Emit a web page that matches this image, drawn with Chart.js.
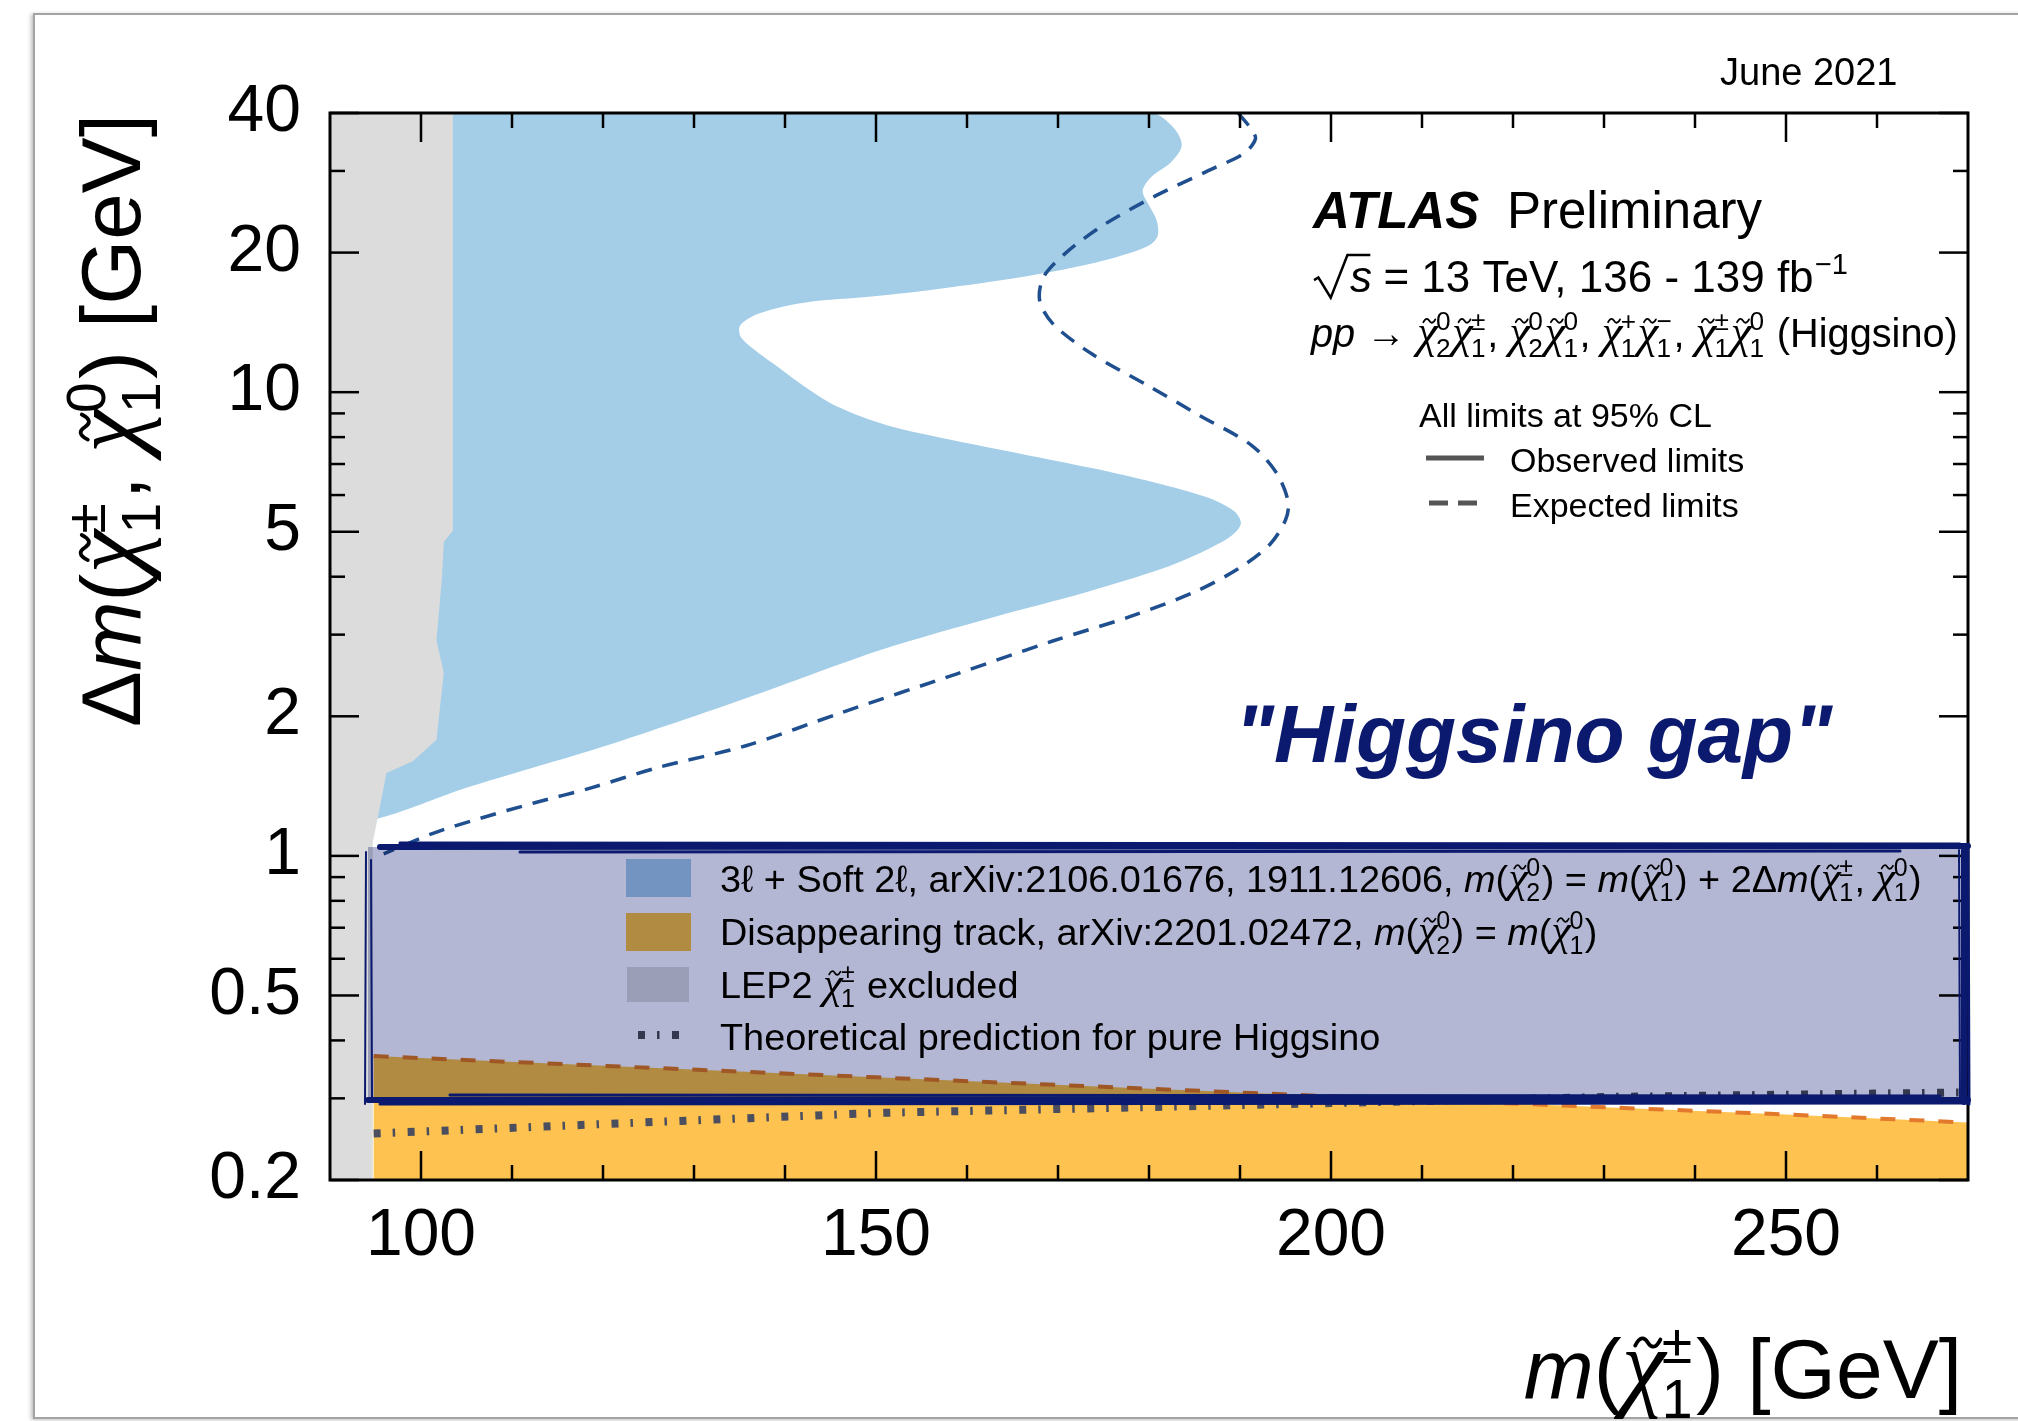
<!DOCTYPE html>
<html>
<head>
<meta charset="utf-8">
<script src="https://cdn.jsdelivr.net/npm/chart.js@4/dist/chart.umd.min.js"></script>
<style>
  html, body { margin: 0; padding: 0; background: #fff; overflow: hidden; }
  #wrap { position: relative; width: 2018px; height: 1421px; }
  #frame { position: absolute; left: 33px; top: 13px; width: 2100px; height: 1402px;
           border: 2px solid #a3a3a3; box-shadow: -2px 1px 4px rgba(0,0,0,0.25); pointer-events: none; }
  canvas { position: absolute; left: 0; top: 0; }
</style>
</head>
<body>
<div id="wrap">
  <div id="frame"></div>
  <canvas id="plot" width="2018" height="1421"></canvas>
</div>
<script>
// axis ticks
const xMajor = [100, 150, 200, 250];
const xMinor = [110, 120, 130, 140, 160, 170, 180, 190, 210, 220, 230, 240, 260];
const yMajor = [0.2, 0.5, 1, 2, 5, 10, 20, 40];
const yMinor = [0.3, 0.4, 0.6, 0.7, 0.8, 0.9, 3, 4, 6, 7, 8, 9, 30];

// LEP2 chargino exclusion (grey), outline
const lepX = [90, 103.5, 103.5, 102.5, 102.3, 101.7, 102.5, 101.7, 99.1, 96.2, 95.5, 94.7, 94.7, 90];
const lepY = [40, 40, 5.03, 4.75, 3.97, 2.92, 2.48, 1.78, 1.60, 1.51, 1.28, 1.07, 0.2, 0.2];

// 3l + soft 2l observed limit (right edge of the blue area, top to bottom)
const obsX = [180.3, 182.8, 183.6, 182.4, 180.3, 179.3, 180.0, 180.8, 181.0, 180.3, 177.9, 173.0, 165.9, 156.8,
  149.8, 142.1, 137.2, 135.1, 135.1, 136.5, 139.3, 142.1, 145.6, 151.2, 158.2, 166.0, 173.7, 180.7, 186.3,
  189.4, 190.1, 189.1, 186.3, 181.4, 173.0, 163.1, 150.5, 135.8, 120.4, 104.9, 95.0];
const obsY = [40, 37.0, 34.0, 31.3, 29.2, 27.2, 25.3, 23.6, 21.9, 20.9, 19.96, 18.8, 17.7, 16.7,
  16.1, 15.6, 14.8, 13.96, 13.2, 12.4, 11.3, 10.3, 9.34, 8.49, 7.9, 7.36, 6.86, 6.38, 5.94,
  5.53, 5.21, 4.91, 4.57, 4.16, 3.70, 3.28, 2.78, 2.19, 1.73, 1.40, 1.20];

// 3l + soft 2l expected limit
const expX = [189.8, 191.2, 191.7, 190.5, 186.3, 180.7, 175.1, 170.9, 168.4, 168.0, 169.5, 173.7, 180.0, 185.6,
  191.2, 194.0, 195.3, 195.0, 193.3, 189.8, 184.9, 177.9, 169.5, 158.9, 146.3, 135.8, 126.0, 118.6, 112.4,
  106.5, 101.4, 95.9];
const expY = [40, 37.0, 35.2, 32.8, 29.9, 26.5, 23.0, 20.0, 17.7, 15.7, 14.0, 12.1, 10.3, 8.9,
  7.7, 6.7, 5.8, 5.3, 4.7, 4.16, 3.70, 3.28, 2.91, 2.47, 2.04, 1.73, 1.55, 1.40, 1.30,
  1.205, 1.12, 1.01];

// disappearing track limit
const dtX = [94.8, 150, 200, 250, 270];
const dtY = [0.37, 0.333, 0.303, 0.277, 0.266];

// pure higgsino theory prediction
const thX = [94.8, 150, 200, 230, 270];
const thY = [0.252, 0.279, 0.293, 0.302, 0.309];

const SANS = '"Liberation Sans", Arial, Helvetica, sans-serif';
const SERIF = '"Liberation Serif", "DejaVu Serif", serif';
const NAVY = '#0b1a6e';

const pts = (xs, ys) => xs.map((x, i) => ({ x, y: ys[i] }));

const obsShape = [{ x: 90, y: 40 }, ...pts(obsX, obsY), { x: 90, y: obsY[obsY.length - 1] }];
const dtShape = [{ x: dtX[0], y: 0.2 }, ...pts(dtX, dtY), { x: dtX[dtX.length - 1], y: 0.2 }];

// little rich text helper: plain, italic, chargino/neutralino with tilde + scripts, superscript
const T = t => ({ t });
const I = t => ({ t, it: true });
const C = (sup, sub) => ({ chi: true, sup, sub });
const S = t => ({ sup: t });

function tilde(ctx, cx, cy, w, lw) {
  ctx.save();
  ctx.strokeStyle = ctx.fillStyle;
  ctx.lineWidth = lw;
  ctx.lineCap = 'round';
  ctx.beginPath();
  ctx.moveTo(cx - w / 2, cy + w * 0.12);
  ctx.bezierCurveTo(cx - w * 0.3, cy - w * 0.28, cx - w * 0.12, cy - w * 0.2, cx, cy);
  ctx.bezierCurveTo(cx + w * 0.12, cy + w * 0.2, cx + w * 0.3, cy + w * 0.28, cx + w / 2, cy - w * 0.12);
  ctx.stroke();
  ctx.restore();
}

function rich(ctx, parts, x, y, size, draw) {
  let cx = x;
  for (const p of parts) {
    if (p.chi) {
      const cs = size * 1.18;
      ctx.font = `italic ${cs}px ${SERIF}`;
      const w = ctx.measureText('χ').width;
      if (draw) {
        ctx.fillText('χ', cx, y);
        tilde(ctx, cx + w * 0.6, y - size * 0.66, size * 0.3, size * 0.045);
      }
      cx += w * 0.92;
      const ss = size * 0.66;
      ctx.font = `${ss}px ${SANS}`;
      const wa = ctx.measureText(p.sup).width;
      const wb = ctx.measureText(p.sub).width;
      if (draw) {
        ctx.fillText(p.sup, cx, y - size * 0.42);
        ctx.fillText(p.sub, cx, y + size * 0.24);
      }
      cx += Math.max(wa, wb) + size * 0.04;
    } else if (p.sup !== undefined) {
      const ss = size * 0.66;
      ctx.font = `${ss}px ${SANS}`;
      if (draw) ctx.fillText(p.sup, cx + size * 0.03, y - size * 0.42);
      cx += ctx.measureText(p.sup).width + size * 0.03;
    } else {
      ctx.font = `${p.it ? 'italic ' : ''}${size}px ${SANS}`;
      if (draw) ctx.fillText(p.t, cx, y);
      cx += ctx.measureText(p.t).width;
    }
  }
  return cx - x;
}
const fitSize = (ctx, parts, width) => 40 * width / rich(ctx, parts, 0, 0, 40, false);

const yTitle = [T('Δ'), I('m'), T('('), C('±', '1'), T(', '), C('0', '1'), T(') [GeV]')];
const xTitle = [I('m'), T('('), C('±', '1'), T(') [GeV]')];
const procLine = [I('pp'), T(' → '), C('0', '2'), C('±', '1'), T(', '), C('0', '2'), C('0', '1'), T(', '),
  C('+', '1'), C('−', '1'), T(', '), C('±', '1'), C('0', '1'), T(' (Higgsino)')];
const legRows = [
  [T('3ℓ + Soft 2ℓ, arXiv:2106.01676, 1911.12606, '), I('m'), T('('), C('0', '2'), T(') = '), I('m'), T('('),
    C('0', '1'), T(') + 2Δ'), I('m'), T('('), C('±', '1'), T(', '), C('0', '1'), T(')')],
  [T('Disappearing track, arXiv:2201.02472, '), I('m'), T('('), C('0', '2'), T(') = '), I('m'), T('('), C('0', '1'), T(')')],
  [T('LEP2 '), C('±', '1'), T(' excluded')],
  [T('Theoretical prediction for pure Higgsino')]
];

function line(ctx, x1, y1, x2, y2) {
  ctx.beginPath(); ctx.moveTo(x1, y1); ctx.lineTo(x2, y2); ctx.stroke();
}

const decorations = {
  id: 'decorations',
  afterDraw(chart) {
    const ctx = chart.ctx;
    const { left, right, top, bottom } = chart.chartArea;
    const xs = chart.scales.x, ys = chart.scales.y;
    ctx.save();
    ctx.textAlign = 'left';
    ctx.textBaseline = 'alphabetic';

    // inward ticks on all four sides + frame
    ctx.strokeStyle = '#000';
    ctx.lineWidth = 2.5;
    xMajor.concat(xMinor).forEach(v => {
      const px = xs.getPixelForValue(v), l = xMajor.includes(v) ? 29 : 15;
      line(ctx, px, bottom, px, bottom - l);
      line(ctx, px, top, px, top + l);
    });
    yMajor.concat(yMinor).forEach(v => {
      const py = ys.getPixelForValue(v), l = yMajor.includes(v) ? 29 : 15;
      line(ctx, left, py, left + l, py);
      line(ctx, right, py, right - l, py);
    });
    ctx.lineWidth = 3;
    ctx.strokeRect(left, top, right - left, bottom - top);

    // header texts
    ctx.fillStyle = '#000';
    ctx.font = `38px ${SANS}`;
    ctx.fillText('June 2021', 1720, 85);
    ctx.font = `italic bold 51px ${SANS}`;
    ctx.fillText('ATLAS', 1313, 228);
    ctx.font = `51px ${SANS}`;
    ctx.fillText('Preliminary', 1507, 228);

    // sqrt(s) line
    const s0 = 44, bx = 1314, by = 292;
    ctx.strokeStyle = '#000';
    ctx.lineWidth = 2.5;
    ctx.beginPath();
    ctx.moveTo(bx, by - 0.27 * s0);
    ctx.lineTo(bx + 0.1 * s0, by - 0.33 * s0);
    ctx.lineTo(bx + 0.38 * s0, by + 0.13 * s0);
    ctx.lineTo(bx + 0.76 * s0, by - 0.84 * s0);
    ctx.lineTo(bx + 1.28 * s0, by - 0.84 * s0);
    ctx.stroke();
    ctx.font = `italic ${s0}px ${SANS}`;
    ctx.fillText('s', bx + 0.82 * s0, by);
    rich(ctx, [T(' = 13 TeV, 136 - 139 fb'), S('−1')], bx + 1.3 * s0, by, s0, true);

    rich(ctx, procLine, 1311, 347, fitSize(ctx, procLine, 647), true);

    ctx.font = `34px ${SANS}`;
    ctx.fillText('All limits at 95% CL', 1419, 427);
    ctx.fillText('Observed limits', 1510, 472);
    ctx.fillText('Expected limits', 1510, 517);
    ctx.strokeStyle = '#555';
    ctx.lineWidth = 5;
    line(ctx, 1426, 458, 1484, 458);
    ctx.setLineDash([19, 10]);
    line(ctx, 1429, 503, 1477, 503);
    ctx.setLineDash([]);

    ctx.fillStyle = NAVY;
    ctx.font = `italic bold 82px ${SANS}`;
    ctx.fillText('"Higgsino gap"', 1235, 762);

    // legend panel
    ctx.fillStyle = '#a4cee8'; ctx.fillRect(626, 859, 65, 38);
    ctx.fillStyle = '#fdc24f'; ctx.fillRect(626, 913, 65, 38);
    ctx.fillStyle = '#dcdcdc'; ctx.fillRect(627, 967, 62, 35);
    ctx.strokeStyle = '#4a4e5e';
    ctx.lineWidth = 8;
    ctx.setLineDash([7, 12, 2.5, 12.5]);
    line(ctx, 638, 1035, 680, 1035);
    ctx.setLineDash([]);
    ctx.fillStyle = '#000';
    const ls = fitSize(ctx, legRows[0], 1202);
    [892, 945, 998, 1050].forEach((yy, i) => rich(ctx, legRows[i], 720, yy, ls, true));

    ctx.save();
    ctx.globalCompositeOperation = 'multiply';
    ctx.fillStyle = '#b3b7d4';
    ctx.fillRect(368, 847, 1598, 254);
    ctx.restore();

    // sketchy navy frame of the panel
    ctx.strokeStyle = NAVY;
    ctx.lineCap = 'round';
    ctx.lineWidth = 6;
    line(ctx, 380, 847, 1968, 846);
    line(ctx, 368, 1100, 1968, 1100);
    line(ctx, 1964, 846, 1964, 1102);
    ctx.lineWidth = 3;
    line(ctx, 400, 843, 1960, 844);
    line(ctx, 520, 852, 1900, 851);
    line(ctx, 380, 1104, 1968, 1103);
    line(ctx, 450, 1095, 1940, 1096);
    line(ctx, 1968, 844, 1969, 1104);
    ctx.lineWidth = 2;
    line(ctx, 366, 852, 365, 1104);
    line(ctx, 371, 860, 372, 1098);
    line(ctx, 1959, 850, 1960, 1098);
    ctx.lineCap = 'butt';

    // axis titles
    ctx.fillStyle = '#000';
    ctx.save();
    ctx.translate(140, 727);
    ctx.rotate(-Math.PI / 2);
    rich(ctx, yTitle, 0, 0, fitSize(ctx, yTitle, 613), true);
    ctx.restore();
    const xs2 = 84;
    const xw = rich(ctx, xTitle, 0, 0, xs2, false);
    rich(ctx, xTitle, 1962 - xw, 1398, xs2, true);

    ctx.restore();
  }
};

new Chart(document.getElementById('plot'), {
  type: 'line',
  data: {
    datasets: [
      { label: 'theory', data: pts(thX, thY), order: 0, borderColor: '#4a4e5e', borderWidth: 8,
        borderDash: [7, 12, 2.5, 12.5], fill: false, tension: 0 },
      { label: 'dt edge', data: pts(dtX, dtY), order: 1, borderColor: '#e2792c', borderWidth: 4,
        borderDash: [15, 14], fill: false, tension: 0 },
      { label: 'dt', data: dtShape, order: 2, borderColor: 'transparent', borderWidth: 0,
        backgroundColor: '#fdc24f', fill: 'shape', tension: 0 },
      { label: 'expected', data: pts(expX, expY), order: 3, borderColor: '#1f4f8e', borderWidth: 3.5,
        borderDash: [16, 11], fill: false, tension: 0.3 },
      { label: 'LEP2', data: pts(lepX, lepY), order: 4, borderColor: 'transparent', borderWidth: 0,
        backgroundColor: '#dcdcdc', fill: 'shape', tension: 0 },
      { label: 'observed', data: obsShape, order: 5, borderColor: 'transparent', borderWidth: 0,
        backgroundColor: '#a4cee8', fill: 'shape', tension: 0.3 }
    ]
  },
  options: {
    responsive: false,
    animation: false,
    devicePixelRatio: 1,
    events: [],
    layout: { padding: { top: 113, right: 50, bottom: 0, left: 0 } },
    elements: { point: { radius: 0 } },
    plugins: { legend: { display: false }, tooltip: { enabled: false } },
    scales: {
      x: {
        type: 'linear', min: 90, max: 270,
        grid: { display: false, drawTicks: false },
        border: { display: false },
        ticks: { color: '#000', font: { family: SANS, size: 66 }, padding: 17, autoSkip: false, maxRotation: 0 },
        afterBuildTicks: s => { s.ticks = xMajor.map(v => ({ value: v })); },
        afterFit: s => { s.height = 241; }
      },
      y: {
        type: 'logarithmic', min: 0.2, max: 40,
        grid: { display: false, drawTicks: false },
        border: { display: false },
        ticks: { color: '#000', font: { family: SANS, size: 66 }, padding: 29, autoSkip: false,
                 callback: v => String(v) },
        afterBuildTicks: s => { s.ticks = yMajor.map(v => ({ value: v })); },
        afterFit: s => { s.width = 330; }
      }
    }
  },
  plugins: [decorations]
});
</script>
</body>
</html>
